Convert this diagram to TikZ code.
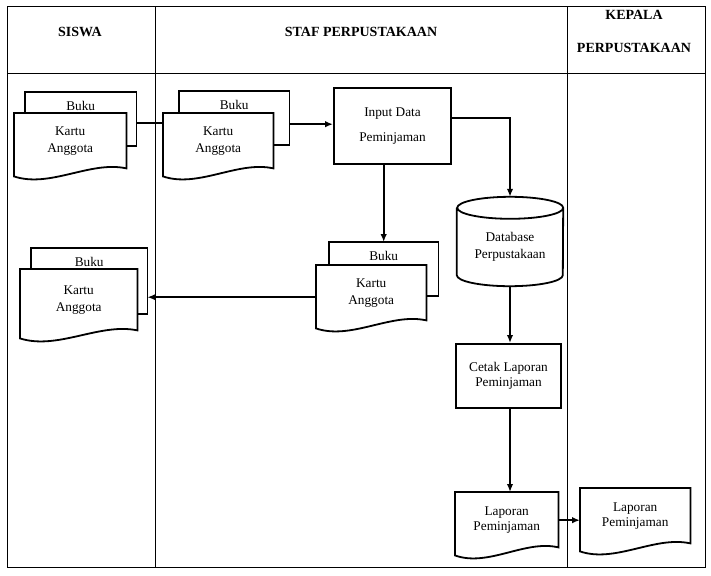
\documentclass[tikz,border=0pt]{standalone}
\usepackage{fontspec}
\setmainfont{Liberation Serif}
\usetikzlibrary{arrows.meta,calc}

\tikzset{
  teks/.style={font=\fontsize{13.3}{17}\selectfont, align=center, inner sep=0pt},
  judul/.style={font=\bfseries\fontsize{14}{17}\selectfont, align=center, inner sep=0pt},
  bingkai/.style={line width=1pt},
  garis/.style={line width=1.8pt},
  alur/.style={line width=1.6pt},
  panah/.style={alur, -{Latex[length=8pt,width=6.5pt]}},
  proses/.style={teks, draw, line width=2pt, minimum width=#1},
  dokumen/.style={teks, anchor=north west, minimum width=#1, minimum height=56pt},
  lembar/.style={teks, anchor=north west, minimum width=#1, minimum height=28pt},
}

% dokumen dengan sisi bawah bergelombang
\newcommand{\gelombang}[1]{%
  \draw[garis] ([yshift=-7pt]#1.south west) -- (#1.north west) -- (#1.north east) -- ([yshift=1pt]#1.south east)
    .. controls ($(#1.south west)!0.68!(#1.south east)+(0pt,9pt)$) and ($(#1.south west)!0.32!(#1.south east)+(0pt,-19pt)$) .. ([yshift=-7pt]#1.south west) -- cycle;}

% lembar kedua di belakang dokumen
\newcommand{\lembarbelakang}[3]{%
  \draw[garis] (#1.west |- #2.north) -- (#1.north west) -- (#1.north east) -- ++(0,#3) -| (#2.north east);}

\begin{document}
\begin{tikzpicture}[x=1pt,y=-1pt]
  \useasboundingbox (0,0) rectangle (711,575);

  % kolom
  \draw[bingkai] (7,7) rectangle (705,567);
  \draw[bingkai] (155,7) -- (155,567) (567,7) -- (567,567) (7,74) -- (705,74);
  \node[judul] (siswa) at (80,32) {SISWA};
  \node[judul] (staf) at (361,32) {STAF PERPUSTAKAAN};
  \node[judul] (kepala) at (634,31.5) {KEPALA\\[16pt]PERPUSTAKAAN};

  % siswa menyerahkan buku dan kartu
  \node[lembar=111pt] (buku1) at (25,92) {Buku};
  \node[dokumen=112pt] (kartu1) at (14,113) {Kartu\\Anggota};
  \lembarbelakang{buku1}{kartu1}{54}
  \gelombang{kartu1}

  \node[lembar=110pt] (buku2) at (179,91) {Buku};
  \node[dokumen=110pt] (kartu2) at (163,113) {Kartu\\Anggota};
  \lembarbelakang{buku2}{kartu2}{54}
  \gelombang{kartu2}

  % proses
  \node[proses=117pt, minimum height=76pt] (input) at (392.5,126) {Input Data\\[8pt]Peminjaman};

  \node[teks, minimum width=106pt, minimum height=78pt] (db) at (510,247) {Database\\Perpustakaan};
  \draw[garis] (db.north west) -- ([yshift=11pt]db.south west) arc (180:360:53pt and 11pt)
    -- (db.north east) arc (0:360:53pt and 11pt);

  \node[lembar=109pt] (buku3) at (329,242) {Buku};
  \node[dokumen=110pt] (kartu3) at (316,265) {Kartu\\Anggota};
  \lembarbelakang{buku3}{kartu3}{54}
  \gelombang{kartu3}

  \node[lembar=116pt] (buku4) at (31,248) {Buku};
  \node[dokumen=117pt, minimum height=62pt] (kartu4) at (20,269) {Kartu\\Anggota};
  \lembarbelakang{buku4}{kartu4}{66}
  \gelombang{kartu4}

  \node[proses=105pt, minimum height=64pt] (cetak) at (508.5,376) {Cetak Laporan\\[-2pt]Peminjaman};

  % laporan
  \node[dokumen=103pt] (lap1) at (455,492) {Laporan\\[-2pt]Peminjaman};
  \gelombang{lap1}
  \node[dokumen=110pt] (lap2) at (580,488) {Laporan\\[-2pt]Peminjaman};
  \gelombang{lap2}

  % alur
  \coordinate (k1) at ([yshift=-17pt]buku1.east);
  \draw[alur] (k1) -- (k1 -| kartu2.west);
  \coordinate (k2) at ([yshift=-19pt]buku2.east);
  \draw[panah] (k2) -- (k2 -| input.west);
  \draw[panah] ([yshift=8pt]input.east) -| ([yshift=11pt]db.north);
  \draw[panah] (buku3.north |- input.south) -- (buku3.north);
  \coordinate (k3) at ([yshift=-4pt]kartu3.west);
  \draw[panah] (k3) -- (k3 -| buku4.east);
  \draw[panah] (db.south) -- (db.south |- cetak.north);
  \draw[panah] (db.south |- cetak.south) -- (db.south |- lap1.north);
  \draw[panah] (lap1.east) -- (lap1.east -| lap2.west);
\end{tikzpicture}
\end{document}
